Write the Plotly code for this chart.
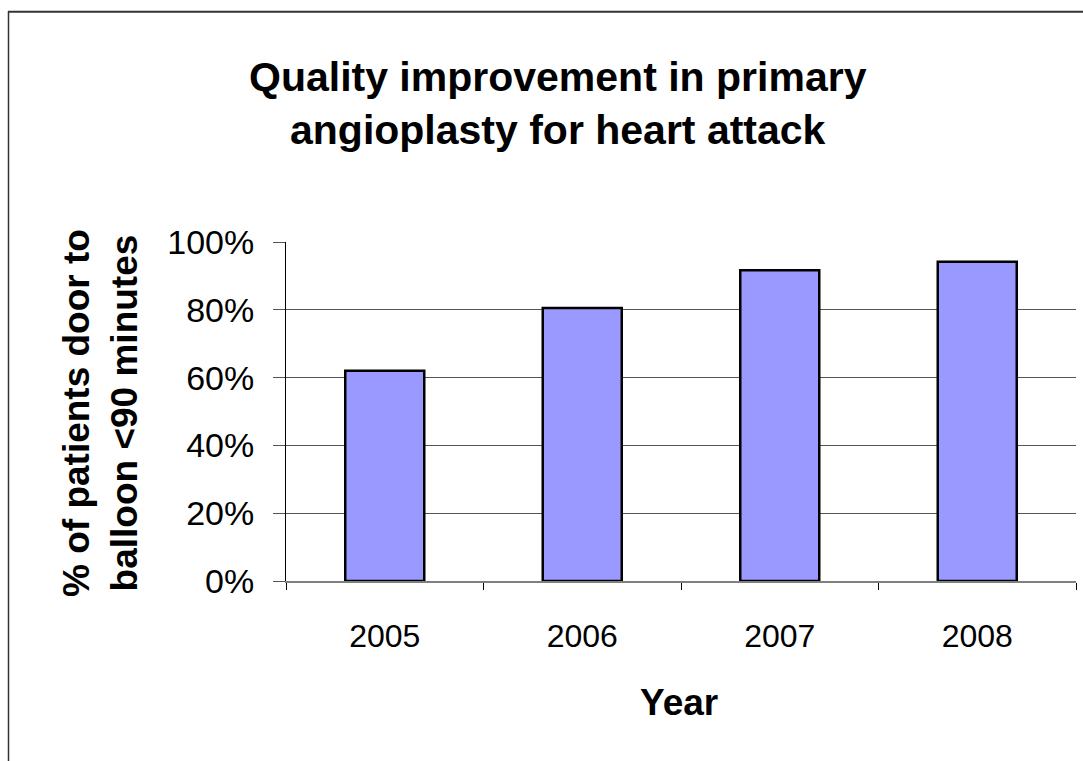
import plotly.graph_objects as go

years = ["2005", "2006", "2007", "2008"]
pct_door_to_balloon = [0.62, 0.805, 0.917, 0.942]
y_ticks = [0, 0.2, 0.4, 0.6, 0.8, 1.0]
y_tick_labels = ["0%", "20%", "40%", "60%", "80%", "100%"]

W, H = 1083, 761
L, R, T, B = 286, 7, 241.5, 179.5
PW, PH = W - L - R, H - T - B


def px(x):
    return (x - L) / PW


def py(y):
    return (H - B - y) / PH


fig = go.Figure()
fig.add_trace(go.Bar(
    x=years, y=pct_door_to_balloon, width=0.4,
    marker=dict(color="#9999FF", line=dict(color="black", width=2.5)),
    hoverinfo="skip",
))

font = "Liberation Sans, Arial, sans-serif"
fig.update_layout(
    width=W, height=H,
    margin=dict(l=L, r=R, t=T, b=B, pad=0),
    paper_bgcolor="white", plot_bgcolor="white",
    showlegend=False,
    font=dict(family=font, color="black"),
    xaxis=dict(
        type="category", showgrid=False, showline=True, linecolor="#808080", linewidth=2,
        ticks="outside", tickson="boundaries", ticklen=7, tickcolor="black", tickwidth=1,
        tickfont=dict(size=32, family=font), ticklabelstandoff=26,
        range=[-0.5, 3.5],
    ),
    yaxis=dict(
        range=[0, 1.0], tickvals=y_ticks, ticktext=y_tick_labels,
        showgrid=True, gridcolor="#555555", gridwidth=1,
        showline=True, linecolor="black", linewidth=1,
        ticks="outside", ticklen=12, tickcolor="#555555",
        tickfont=dict(size=34, family=font), ticklabelstandoff=12,
        zeroline=False,
    ),
    annotations=[
        dict(text="<b>Quality improvement in primary<br>angioplasty for heart attack</b>",
             xref="paper", yref="paper", x=px(558), y=py(103),
             xanchor="center", yanchor="middle", showarrow=False,
             font=dict(size=41, family=font)),
        dict(text="<b>% of patients door to<br>balloon <90 minutes</b>",
             xref="paper", yref="paper", x=px(101), y=py(413),
             xanchor="center", yanchor="middle", textangle=-90, showarrow=False,
             font=dict(size=37, family=font)),
        dict(text="<b>Year</b>",
             xref="paper", yref="paper", x=px(679), y=py(703),
             xanchor="center", yanchor="middle", showarrow=False,
             font=dict(size=37, family=font)),
    ],
    shapes=[
        dict(type="line", xref="paper", yref="paper",
             x0=px(8.5), x1=px(8.5), y0=py(10), y1=py(780),
             line=dict(color="#333333", width=1.5)),
        dict(type="line", xref="paper", yref="paper",
             x0=px(8), x1=px(1100), y0=py(10.5), y1=py(10.5),
             line=dict(color="#333333", width=2)),
    ],
)

fig.write_html(
    "out.html",
    config={"displayModeBar": False, "staticPlot": True},
    post_script="document.body.style.margin='0';document.body.style.overflow='hidden';",
)
